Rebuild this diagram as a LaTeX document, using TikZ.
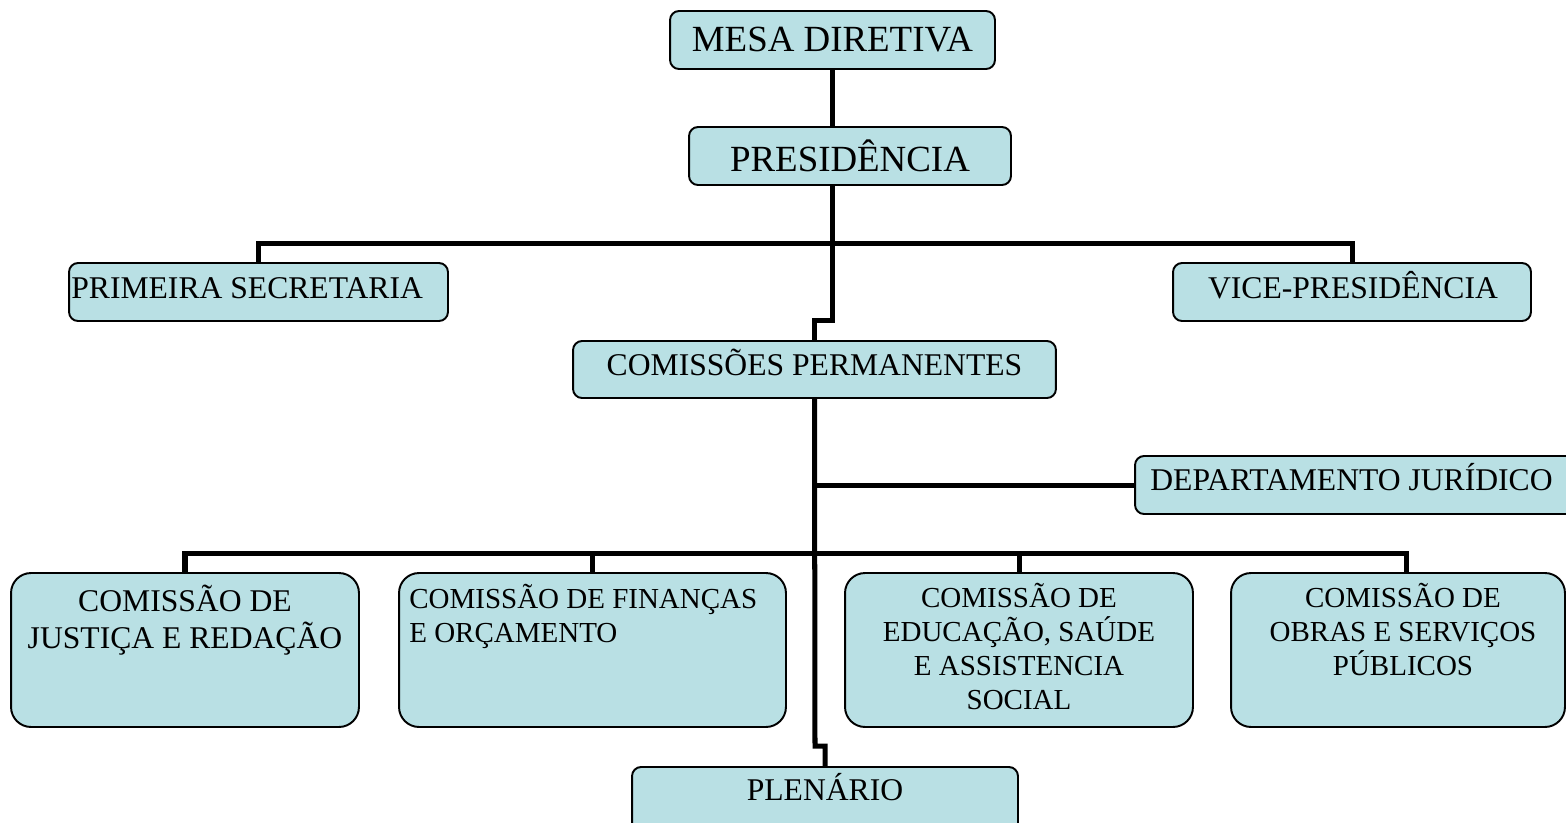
\documentclass[tikz,border=0pt]{standalone}
\usepackage{fontspec}
\setmainfont{Liberation Serif}
\definecolor{orgfill}{RGB}{185,224,228}
\tikzset{
  orgbox/.style={draw=black, line width=1.1pt, fill=orgfill, rounded corners=0.18cm, inner sep=0pt},
  bigbox/.style={orgbox, rounded corners=0.4cm},
  orgtxt/.style={inner sep=0pt, align=center, anchor=base, font=\fontsize{18}{20.5}\selectfont},
  smalltxt/.style={orgtxt, font=\fontsize{16.5}{19.2}\selectfont},
  bigtxt/.style={font=\fontsize{21}{24}\selectfont},
  link/.style={line width=2.85pt},
}
\begin{document}
\begin{tikzpicture}[x=0.02cm, y=-0.02cm]
  \useasboundingbox (0,0) rectangle (1566,822);
  % top of the chart
  \node[orgbox, bigtxt, minimum width=6.5cm, minimum height=1.16cm] (mesa) at (832.5,40) {MESA DIRETIVA};
  \node[orgbox, bigtxt, minimum width=6.44cm, minimum height=1.16cm] (pres) at (850,156) {PRESIDÊNCIA};
  \node[orgbox, minimum width=7.58cm, minimum height=1.16cm] (prim) at (258.5,292) {};
  \node[orgtxt, anchor=base west] (primt) at (71,298) {PRIMEIRA SECRETARIA};
  \node[orgbox, minimum width=7.16cm, minimum height=1.16cm] (vice) at (1352,292) {};
  \node[orgtxt] (vicet) at (1353,298) {VICE-PRESIDÊNCIA};
  \node[orgbox, minimum width=9.66cm, minimum height=1.14cm] (comp) at (814.5,369.5) {};
  \node[orgtxt] (compt) at (814.5,375) {COMISSÕES PERMANENTES};
  \node[orgbox, minimum width=8.8cm, minimum height=1.16cm] (dept) at (1355,485) {};
  \node[orgtxt, anchor=base west] (deptt) at (1150,490) {DEPARTAMENTO JURÍDICO};
  % the four commissions (text placed by its last line)
  \node[bigbox, minimum width=6.96cm, minimum height=3.08cm] (just) at (185,650) {};
  \node[orgtxt] (justt) at (185,648) {COMISSÃO DE\\JUSTIÇA E REDAÇÃO};
  \node[bigbox, minimum width=7.74cm, minimum height=3.08cm] (fin) at (592.5,650) {};
  \node[smalltxt, align=left, anchor=base west] (fint) at (409,642) {COMISSÃO DE FINANÇAS\\E ORÇAMENTO};
  \node[bigbox, minimum width=6.96cm, minimum height=3.08cm] (edu) at (1019,650) {};
  \node[smalltxt] (edut) at (1019,709) {COMISSÃO DE\\EDUCAÇÃO, SAÚDE\\E ASSISTENCIA\\SOCIAL};
  \node[bigbox, minimum width=6.68cm, minimum height=3.08cm] (obr) at (1398,650) {};
  \node[smalltxt] (obrt) at (1403,675) {COMISSÃO DE\\OBRAS E SERVIÇOS\\PÚBLICOS};
  \node[orgbox, minimum width=7.72cm, minimum height=1.32cm] (plen) at (825,800) {};
  \node[orgtxt] (plent) at (825,800) {PLENÁRIO};
  % connectors
  \coordinate (topbar) at (832,243);
  \coordinate (jog1) at (832,320);
  \coordinate (lowbar) at (815,553);
  \coordinate (jog2) at (815,746);
  \draw[link] (mesa.south) -- (mesa.south |- pres.north);
  \draw[link] (pres.south -| jog1) -- (jog1) -| (comp.north);
  \draw[link] (prim.north) |- (topbar) -| (vice.north);
  \draw[link] (comp.south) -- (jog2) -| (plen.north);
  \draw[link] (comp.south |- dept.west) -- (dept.west);
  \draw[link] (just.north) |- (lowbar) -| ([xshift=0.16cm]obr.north);
  \draw[link] (fin.north) -- (fin.north |- lowbar);
  \draw[link] (edu.north) -- (edu.north |- lowbar);
\end{tikzpicture}
\end{document}
